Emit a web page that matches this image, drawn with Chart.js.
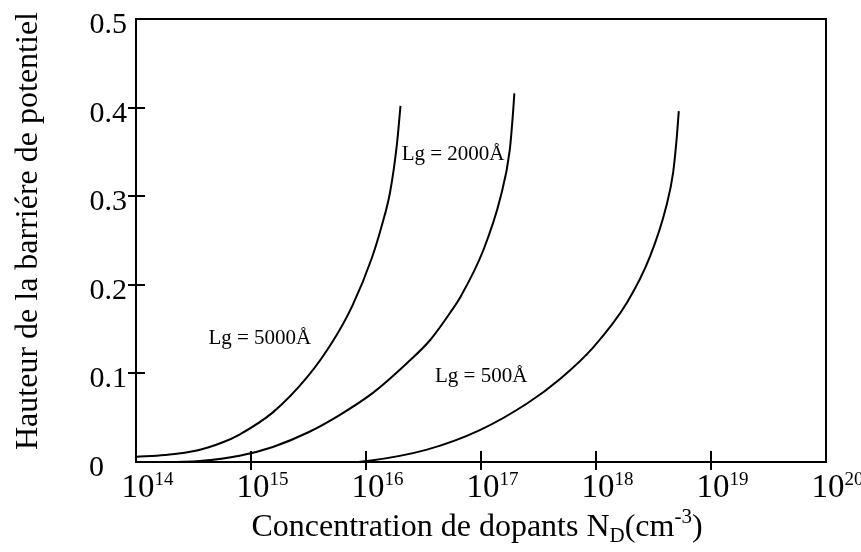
<!DOCTYPE html>
<html>
<head>
<meta charset="utf-8">
<script src="https://cdn.jsdelivr.net/npm/chart.js@4.4.1/dist/chart.umd.min.js"></script>
<style>
  html, body { margin: 0; padding: 0; background: #fff; }
</style>
</head>
<body>
<canvas id="barrier-chart" width="861" height="552"></canvas>
<script>
// N_D given as powers of ten (cm^-3), barrier height
const lg5000Exp = [14.0, 14.25, 14.53, 14.75, 14.9, 15.19, 15.49, 15.71, 15.88, 16.05, 16.14, 16.21, 16.27, 16.3];
const lg5000Val = [0.006, 0.008, 0.013, 0.022, 0.031, 0.056, 0.096, 0.136, 0.176, 0.23, 0.268, 0.305, 0.36, 0.402];

const lg2000Exp = [14.35, 14.55, 14.9, 15.19, 15.49, 15.77, 16.06, 16.36, 16.56, 16.75, 16.82, 17.02, 17.17, 17.25, 17.28, 17.29];
const lg2000Val = [0.0, 0.001, 0.007, 0.017, 0.033, 0.053, 0.078, 0.112, 0.138, 0.172, 0.186, 0.239, 0.299, 0.352, 0.397, 0.416];

const lg500Exp = [15.92, 16.01, 16.53, 16.99, 17.4, 17.69, 17.98, 18.27, 18.47, 18.61, 18.67, 18.7, 18.72];
const lg500Val = [0.0, 0.001, 0.014, 0.036, 0.066, 0.094, 0.13, 0.18, 0.232, 0.288, 0.326, 0.363, 0.396];

const curveLabels = ["Lg = 5000\u00C5", "Lg = 2000\u00C5", "Lg = 500\u00C5"];
const yTickValues = [0, 0.1, 0.2, 0.3, 0.4, 0.5];
const xTickExps = [14, 15, 16, 17, 18, 19, 20];

const SERIF = '"Liberation Serif", "Times New Roman", serif';

function toPoints(exps, vals) {
  return exps.map((e, i) => ({ x: Math.pow(10, e), y: vals[i] }));
}

function curve(label, exps, vals) {
  return {
    label: label,
    data: toPoints(exps, vals),
    borderColor: "#000",
    borderWidth: 2,
    pointRadius: 0,
    fill: false,
    cubicInterpolationMode: "monotone",
  };
}

// where each curve name sits: left edge / baseline, in data units
const labelAnchors = [
  { text: curveLabels[0], x: Math.pow(10, 14.63), y: 0.133 },
  { text: curveLabels[1], x: Math.pow(10, 16.31), y: 0.341 },
  { text: curveLabels[2], x: Math.pow(10, 16.6), y: 0.09 },
];

const decorPlugin = {
  id: "decor",
  afterDraw(chart) {
    const { ctx, chartArea: a } = chart;
    const xs = chart.scales.x;
    const ys = chart.scales.y;
    ctx.save();
    ctx.strokeStyle = "#000";
    ctx.fillStyle = "#000";
    ctx.lineWidth = 2;

    // top and right side of the frame
    ctx.beginPath();
    ctx.moveTo(a.left, a.top);
    ctx.lineTo(a.right, a.top);
    ctx.lineTo(a.right, a.bottom);
    ctx.stroke();

    // tick marks crossing the axes
    ctx.beginPath();
    yTickValues.slice(1, -1).forEach((v) => {
      const py = Math.round(ys.getPixelForValue(v));
      ctx.moveTo(a.left - 8, py);
      ctx.lineTo(a.left + 9, py);
    });
    xTickExps.slice(1, -1).forEach((e) => {
      const px = Math.round(xs.getPixelForValue(Math.pow(10, e)));
      ctx.moveTo(px, a.bottom - 11);
      ctx.lineTo(px, a.bottom + 8);
    });
    ctx.stroke();

    // y tick labels
    ctx.font = "30px " + SERIF;
    ctx.textAlign = "right";
    ctx.textBaseline = "alphabetic";
    yTickValues.forEach((v) => {
      const py = ys.getPixelForValue(v);
      const txt = v === 0 ? "0" : v.toFixed(1);
      const right = v === 0 ? a.left - 32 : a.left - 9;
      ctx.fillText(txt, right, py + 14);
    });

    // x tick labels 10^n
    ctx.textAlign = "left";
    xTickExps.forEach((e) => {
      const px = xs.getPixelForValue(Math.pow(10, e));
      ctx.font = "33px " + SERIF;
      const w = ctx.measureText("10").width;
      const left = px + 2 - w / 2;
      ctx.fillText("10", left, a.bottom + 35);
      ctx.font = "19px " + SERIF;
      ctx.fillText(String(e), left + w, a.bottom + 23);
    });

    // x axis title with subscript and superscript
    const parts = [
      { t: "Concentration de dopants N", size: 32, dy: 0 },
      { t: "D", size: 21, dy: 6 },
      { t: "(cm", size: 32, dy: 0 },
      { t: "-3", size: 21, dy: -13 },
      { t: ")", size: 32, dy: 0 },
    ];
    let total = 0;
    parts.forEach((p) => {
      ctx.font = p.size + "px " + SERIF;
      p.w = ctx.measureText(p.t).width;
      total += p.w;
    });
    let cx = (a.left + a.right) / 2 - 4 - total / 2;
    const base = a.bottom + 74;
    parts.forEach((p) => {
      ctx.font = p.size + "px " + SERIF;
      ctx.fillText(p.t, cx, base + p.dy);
      cx += p.w;
    });

    // y axis title
    ctx.save();
    ctx.translate(37, 231);
    ctx.rotate(-Math.PI / 2);
    ctx.textAlign = "center";
    ctx.font = "32px " + SERIF;
    ctx.fillText("Hauteur de la barri\u00E9re de potentiel", 0, 0);
    ctx.restore();

    // curve names
    ctx.font = "21px " + SERIF;
    ctx.textAlign = "left";
    labelAnchors.forEach((l) => {
      ctx.fillText(l.text, xs.getPixelForValue(l.x), ys.getPixelForValue(l.y));
    });

    ctx.restore();
  },
};

const ctx = document.getElementById("barrier-chart");

new Chart(ctx, {
  type: "line",
  data: {
    datasets: [
      curve(curveLabels[0], lg5000Exp, lg5000Val),
      curve(curveLabels[1], lg2000Exp, lg2000Val),
      curve(curveLabels[2], lg500Exp, lg500Val),
    ],
  },
  options: {
    responsive: false,
    animation: false,
    layout: { padding: { left: 0, top: 19, right: 35, bottom: 0 } },
    plugins: { legend: { display: false }, tooltip: { enabled: false } },
    scales: {
      x: {
        type: "logarithmic",
        min: 1e14,
        max: 1e20,
        grid: { display: false },
        border: { display: true, color: "#000", width: 2 },
        ticks: { display: false },
        afterFit: (scale) => { scale.height = 90; },
      },
      y: {
        type: "linear",
        min: 0,
        max: 0.5,
        grid: { display: false },
        border: { display: true, color: "#000", width: 2 },
        ticks: { display: false },
        afterFit: (scale) => { scale.width = 136; },
      },
    },
  },
  plugins: [decorPlugin],
});
</script>
</body>
</html>
